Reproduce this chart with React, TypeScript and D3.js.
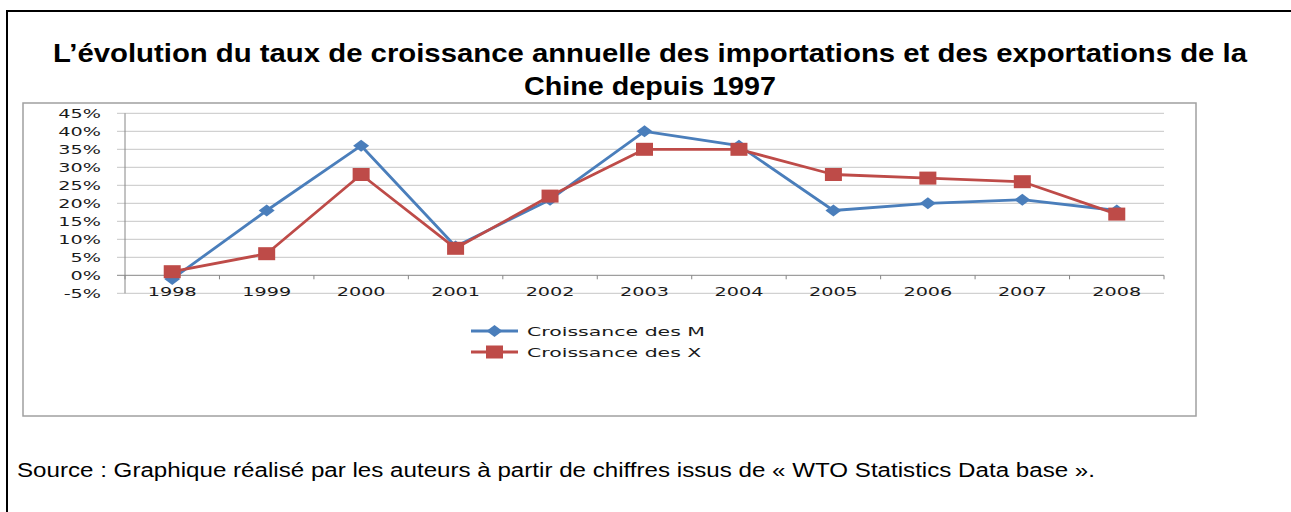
import * as d3 from "d3";

const YEARS = ["1998", "1999", "2000", "2001", "2002", "2003", "2004", "2005", "2006", "2007", "2008"];
const IMPORTS_M = [-1, 18, 36, 8, 21, 40, 36, 18, 20, 21, 18];
const EXPORTS_X = [1, 6, 28, 7.5, 22, 35, 35, 28, 27, 26, 17];
const Y_TICKS = [-5, 0, 5, 10, 15, 20, 25, 30, 35, 40, 45];
const SERIES_NAMES = ["Croissance des M", "Croissance des X"];

const TITLE_1 = "L\u2019évolution du taux de croissance annuelle des importations et des exportations de la";
const TITLE_2 = "Chine depuis 1997";
const SOURCE = "Source : Graphique réalisé par les auteurs à partir de chiffres issus de « WTO Statistics Data base ».";

const W = 1291;
const H = 512;
const BLUE = "#4a7ebb";
const RED = "#be4b48";
const AXIS = "#868686";
const GRID = "#c6c6c6";
// the embedded excel picture is stretched horizontally
const SX = 1.6;
const CHART_FONT = "'DejaVu Sans', Verdana, sans-serif";
const DOC_FONT = "'Liberation Sans', Arial, sans-serif";

const PLOT = { left: 125, right: 1164, top: 113.3, bottom: 293.3 };

const Diamond = ({ x, y }: { x: number; y: number }) => (
  <path d={`M${x - 8},${y} L${x},${y - 6} L${x + 8},${y} L${x},${y + 6} Z`} fill={BLUE} />
);

const Square = ({ x, y }: { x: number; y: number }) => (
  <rect x={x - 8.5} y={y - 6.5} width={17} height={13} fill={RED} />
);

const StretchText = ({ x, y, anchor, size, children }: any) => (
  <text
    transform={`translate(${x},${y}) scale(${SX},1)`}
    textAnchor={anchor}
    fontFamily={CHART_FONT}
    fontSize={size}
    fill="#1a1a1a"
  >
    {children}
  </text>
);

export default function App() {
  const xScale = d3.scaleBand().domain(YEARS).range([PLOT.left, PLOT.right]);
  const yScale = d3.scaleLinear().domain([-5, 45]).range([PLOT.bottom, PLOT.top]);
  const cx = (d: string) => (xScale(d) ?? 0) + xScale.bandwidth() / 2;

  const line = d3
    .line<number>()
    .x((_, i) => cx(YEARS[i]))
    .y((v) => yScale(v));

  const boundaries = d3.range(YEARS.length + 1).map((i) => PLOT.left + i * xScale.bandwidth());

  return (
    <svg width={W} height={H} style={{ position: "absolute", left: 0, top: 0, background: "#fff" }}>
      {/* page frame */}
      <line x1={7} y1={11} x2={W} y2={11} stroke="#000" strokeWidth={2} />
      <line x1={7} y1={10} x2={7} y2={H} stroke="#000" strokeWidth={2} />

      {/* title */}
      <text x={53} y={62} fontFamily={DOC_FONT} fontWeight="bold" fontSize={25} textLength={1194} lengthAdjust="spacingAndGlyphs">
        {TITLE_1}
      </text>
      <text x={524} y={95} fontFamily={DOC_FONT} fontWeight="bold" fontSize={25} textLength={252} lengthAdjust="spacingAndGlyphs">
        {TITLE_2}
      </text>

      {/* chart frame */}
      <rect x={23} y={103} width={1173} height={313} fill="#fff" stroke="#a0a0a0" strokeWidth={1.5} />

      {/* grid */}
      {Y_TICKS.map((t) => (
        <line key={t} x1={117} x2={PLOT.right} y1={yScale(t)} y2={yScale(t)} stroke={t === 0 ? AXIS : GRID} strokeWidth={1} />
      ))}
      <line x1={PLOT.left} x2={PLOT.left} y1={PLOT.top} y2={PLOT.bottom} stroke={AXIS} strokeWidth={1} />
      {boundaries.map((b, i) => (
        <line key={i} x1={b} x2={b} y1={yScale(0)} y2={yScale(0) + 4} stroke={AXIS} strokeWidth={1} />
      ))}

      {/* y labels */}
      {Y_TICKS.map((t) => (
        <StretchText key={t} x={101} y={yScale(t) + 4.2} anchor="end" size={12}>
          {`${t}%`}
        </StretchText>
      ))}

      {/* x labels */}
      {YEARS.map((yr) => (
        <StretchText key={yr} x={cx(yr)} y={295.5} anchor="middle" size={12}>
          {yr}
        </StretchText>
      ))}

      {/* series */}
      <path d={line(IMPORTS_M) ?? ""} fill="none" stroke={BLUE} strokeWidth={2.8} strokeLinejoin="round" />
      {IMPORTS_M.map((v, i) => (
        <Diamond key={i} x={cx(YEARS[i])} y={yScale(v)} />
      ))}
      <path d={line(EXPORTS_X) ?? ""} fill="none" stroke={RED} strokeWidth={2.8} strokeLinejoin="round" />
      {EXPORTS_X.map((v, i) => (
        <Square key={i} x={cx(YEARS[i])} y={yScale(v)} />
      ))}

      {/* legend */}
      <line x1={471} x2={518} y1={331} y2={331} stroke={BLUE} strokeWidth={2.8} />
      <Diamond x={494.5} y={331} />
      <StretchText x={527} y={335.5} anchor="start" size={12.8}>
        {SERIES_NAMES[0]}
      </StretchText>
      <line x1={471} x2={518} y1={352} y2={352} stroke={RED} strokeWidth={2.8} />
      <Square x={494.5} y={352} />
      <StretchText x={527} y={356.5} anchor="start" size={12.8}>
        {SERIES_NAMES[1]}
      </StretchText>

      {/* source */}
      <text x={17} y={477} fontFamily={DOC_FONT} fontSize={20} textLength={1078} lengthAdjust="spacingAndGlyphs">
        {SOURCE}
      </text>
    </svg>
  );
}
